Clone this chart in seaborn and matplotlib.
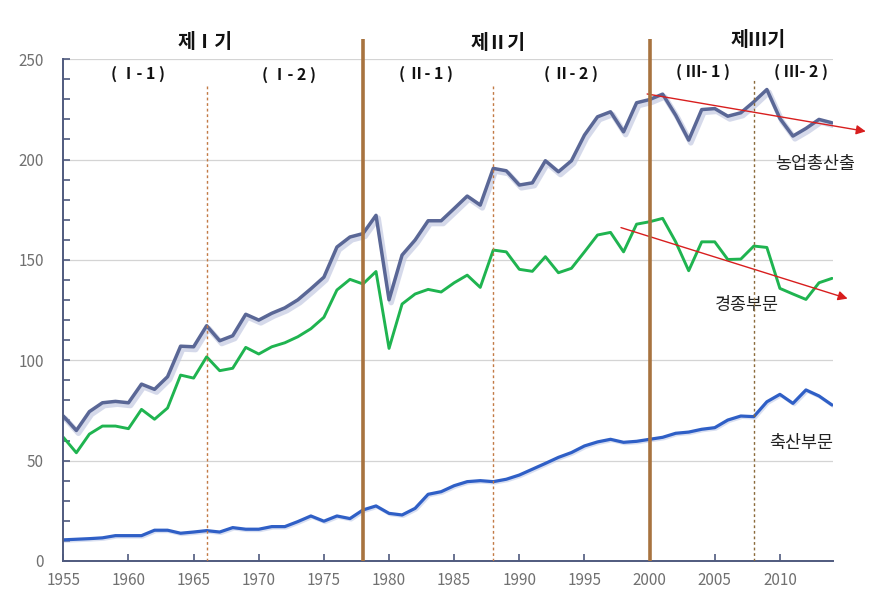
import numpy as np
import pandas as pd
import matplotlib
matplotlib.use("Agg")
import matplotlib.pyplot as plt
import matplotlib.patheffects as pe
from matplotlib.ticker import MultipleLocator
import seaborn as sns

# --- data (index values) ---
years = list(range(1955, 2015))

total = [72.2, 65.0, 74.4, 78.8, 79.5, 78.8, 88.1, 85.5, 91.8, 107.0,
         106.7, 117.2, 109.7, 112.2, 122.9, 120.0, 123.4, 126.1, 130.1, 135.6,
         141.4, 156.4, 161.4, 163.1, 172.2, 130.1, 152.4, 159.9, 169.5, 169.5,
         175.6, 181.8, 177.3, 195.6, 194.4, 187.3, 188.4, 199.4, 193.9, 199.4,
         212.2, 221.3, 223.8, 213.8, 228.3, 229.9, 232.6, 222.1, 209.7, 224.9,
         225.4, 221.6, 223.3, 228.8, 234.9, 220.5, 211.7, 215.5, 220.0, 218.3]

crops = [61.6, 53.9, 63.2, 67.2, 67.2, 65.9, 75.5, 70.6, 76.2, 92.6,
         91.1, 101.7, 94.8, 96.0, 106.4, 103.1, 106.7, 108.7, 111.7, 115.7,
         121.4, 135.0, 140.3, 138.0, 144.2, 105.9, 128.0, 133.0, 135.3, 134.0,
         138.6, 142.4, 136.3, 154.9, 154.0, 145.3, 144.3, 151.6, 143.6, 145.8,
         154.0, 162.4, 163.7, 154.0, 167.8, 169.0, 170.7, 159.0, 144.6, 159.0,
         159.0, 150.2, 150.4, 156.9, 156.2, 135.8, 133.0, 130.3, 138.6, 140.8]

livestock = [10.5, 10.8, 11.1, 11.5, 12.6, 12.6, 12.6, 15.3, 15.3, 13.8,
             14.4, 15.1, 14.4, 16.6, 15.8, 15.8, 17.1, 17.1, 19.6, 22.4,
             19.8, 22.4, 21.1, 25.4, 27.4, 23.7, 22.9, 26.2, 33.2, 34.5,
             37.5, 39.5, 40.0, 39.5, 40.7, 42.8, 45.7, 48.6, 51.6, 54.0,
             57.3, 59.3, 60.6, 59.1, 59.6, 60.6, 61.6, 63.6, 64.2, 65.6,
             66.4, 70.2, 72.2, 71.9, 79.3, 83.0, 78.5, 85.2, 82.2, 77.7]

series_names = ["농업총산출", "경종부문", "축산부문"]

period_breaks = [1978, 2000]
sub_breaks = [1966, 1988, 2008]
period_labels = ["제Ⅰ기", "제Ⅱ기", "제Ⅲ기"]
sub_labels = ["( Ⅰ- 1 )", "( Ⅰ- 2 )", "( Ⅱ- 1 )", "( Ⅱ- 2 )", "( Ⅲ- 1 )", "( Ⅲ- 2 )"]

df = pd.DataFrame({"year": years, series_names[0]: total,
                   series_names[1]: crops, series_names[2]: livestock})

sns.set_style("white")
plt.rcParams["font.family"] = ["Noto Sans CJK KR", "DejaVu Sans"]

fig = plt.figure(figsize=(8.82, 5.98), dpi=100)
ax = fig.add_axes([0.0718, 0.062, 0.873, 0.839])

# soft drop shadow like the original
shadow = [pe.SimpleLineShadow(offset=(1.5, -2), shadow_color="#c4cae2", alpha=0.7, linewidth=4),
          pe.Normal()]

sns.lineplot(data=df, x="year", y=series_names[0], ax=ax, color="#5a6796", lw=2.5,
             path_effects=shadow)
sns.lineplot(data=df, x="year", y=series_names[1], ax=ax, color="#1fb450", lw=2.1)
sns.lineplot(data=df, x="year", y=series_names[2], ax=ax, color="#2f5fc6", lw=2.3,
             path_effects=[pe.SimpleLineShadow(offset=(1, -1), shadow_color="#b3c0e4", alpha=0.5),
                           pe.Normal()])

ax.set_xlim(1955, 2014.1)
ax.set_ylim(0, 250)
ax.set_xlabel("")
ax.set_ylabel("")

# grid and axes
ax.yaxis.set_major_locator(MultipleLocator(50))
ax.yaxis.set_minor_locator(MultipleLocator(10))
ax.xaxis.set_major_locator(MultipleLocator(5))
ax.grid(axis="y", color="#d4d4d4", lw=0.9)
ax.grid(axis="x", visible=False)
for s in ["top", "right"]:
    ax.spines[s].set_visible(False)
for s in ["left", "bottom"]:
    ax.spines[s].set_color("#4f5a7e")
    ax.spines[s].set_linewidth(1.4)
ax.tick_params(axis="y", which="both", direction="in", left=True, color="#4f5a7e",
               length=5, width=1.2, pad=14, labelsize=11, labelcolor="#707070")
ax.tick_params(axis="x", direction="in", bottom=True, color="#4f5a7e",
               length=5, width=1.2, pad=8, labelsize=11, labelcolor="#707070")
ax.set_xticks(range(1955, 2015, 5))

# period separators
ax.vlines(period_breaks, 0, 260, colors="#a8733f", lw=2.6, clip_on=False, zorder=4)
ax.vlines(sub_breaks[:2], 0, 237, colors="#c27a45", lw=1.0, linestyles=(0, (2, 2)), zorder=4)
ax.vlines(sub_breaks[2], 0, 240.5, colors="#8a6a3a", lw=1.0, linestyles=(0, (2, 2)), zorder=4)

# labels
for xpos, ypos, txt in zip([1965.9, 1988.4, 2008.3], [258.5, 258, 259.5], period_labels):
    ax.text(xpos, ypos, txt, ha="center", va="center", fontsize=14, fontweight="bold",
            color="#111111")
for xpos, ypos, txt in zip([1960.7, 1972.3, 1982.8, 1994.0, 2004.1, 2011.6],
                           [242.5, 242, 242.5, 242.5, 243.5, 243.5], sub_labels):
    ax.text(xpos, ypos, txt, ha="center", va="center", fontsize=11.5, fontweight="bold",
            color="#111111")

ax.text(2012.7, 198, series_names[0], ha="center", va="center", fontsize=12.5, color="#222222")
ax.text(2007.5, 127.5, series_names[1], ha="center", va="center", fontsize=12.5, color="#222222")
ax.text(2011.6, 58.9, series_names[2], ha="center", va="center", fontsize=12.5, color="#222222")

# trend arrows
ax.annotate("", xy=(2016.8, 213.8), xytext=(1999.6, 232.9), annotation_clip=False,
            arrowprops=dict(arrowstyle="-|>", color="#d81e1e", lw=1.0, mutation_scale=14))
ax.annotate("", xy=(2015.4, 130.3), xytext=(1997.6, 166.5), annotation_clip=False,
            arrowprops=dict(arrowstyle="-|>", color="#d81e1e", lw=1.0, mutation_scale=14))

fig.savefig("out.png", dpi=100)
